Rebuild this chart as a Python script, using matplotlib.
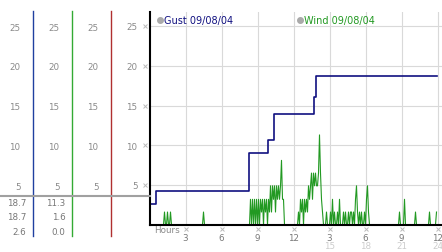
import numpy as np
import matplotlib
matplotlib.use('Agg')
import matplotlib.pyplot as plt
import matplotlib.transforms as mtrans
from matplotlib.lines import Line2D

# gust, step line (hours since start, speed)
gust_hours = [0, 0.55, 8.3, 9.9, 10.4, 13.72, 13.85, 23.95]
gust_speed = [2.6, 4.3, 9.0, 10.6, 13.9, 16.1, 18.7, 18.7]

# wind, 5 minute samples, one row per hour
wind_rows = [
    [0, 0, 0, 0, 0, 0, 0, 0, 0, 0, 0, 0],
    [0, 0, 0, 1.6, 0, 0, 1.6, 0, 0, 1.6, 0, 0],
    [0, 0, 0, 0, 0, 0, 0, 0, 0, 0, 0, 0],
    [0, 0, 0, 0, 0, 0, 0, 0, 0, 0, 0, 0],
    [0, 0, 0, 0, 0, 0, 1.6, 0, 0, 0, 0, 0],
    [0, 0, 0, 0, 0, 0, 0, 0, 0, 0, 0, 0],
    [0, 0, 0, 0, 0, 0, 0, 0, 0, 0, 0, 0],
    [0, 0, 0, 0, 0, 0, 0, 0, 0, 0, 0, 0],
    [0, 0, 0, 0, 0, 3.2, 0, 3.2, 0, 3.2, 0, 3.2],
    [0, 3.2, 0, 3.2, 1.6, 3.2, 0, 3.2, 1.6, 3.2, 0, 3.2],
    [1.6, 4.9, 1.6, 4.9, 3.2, 4.9, 1.6, 4.9, 3.2, 4.9, 3.2, 4.9],
    [8.1, 3.2, 3.2, 0, 0, 0, 0, 0, 0, 0, 0, 0],
    [0, 0, 0, 0, 0, 1.6, 0, 3.2, 1.6, 3.2, 0, 3.2],
    [1.6, 3.2, 1.6, 4.9, 3.2, 4.9, 6.5, 3.2, 6.5, 4.9, 6.5, 4.9],
    [4.9, 6.5, 11.3, 6.5, 3.2, 1.6, 0, 0, 0, 1.6, 0, 0],
    [0, 1.6, 0, 3.2, 0, 1.6, 0, 0, 1.6, 0, 3.2, 0],
    [0, 0, 1.6, 0, 1.6, 0, 0, 1.6, 0, 1.6, 1.6, 0],
    [1.6, 0, 3.2, 4.9, 1.6, 0, 1.6, 0, 1.6, 0, 0, 1.6],
    [0, 3.2, 4.9, 1.6, 0, 0, 0, 0, 0, 0, 0, 0],
    [0, 0, 0, 0, 0, 0, 0, 0, 0, 0, 0, 0],
    [0, 0, 0, 0, 0, 0, 0, 0, 0, 0, 1.6, 0],
    [0, 0, 0, 3.2, 0, 0, 0, 0, 0, 0, 0, 0],
    [0, 0, 1.6, 0, 0, 0, 0, 0, 0, 0, 0, 0],
    [0, 0, 0, 0, 1.6, 0, 0, 0, 0, 0, 0, 1.6],
]
wind_speed = np.concatenate(wind_rows)
wind_hours = np.arange(len(wind_speed)) * 5 / 60

y_ticks = [5, 10, 15, 20, 25]
hour_ticks = [3, 6, 9, 12, 15, 18, 21, 24]
hour_labels = ['3', '6', '9', '12', '3', '6', '9', '12']
day_labels = ['15', '18', '21', '24']
legend_labels = ['Gust 09/08/04', 'Wind 09/08/04']

GUST_C = '#101080'
WIND_C = '#229922'
LABEL_C = '#8a8a8a'

W, H = 442, 253
PX_UNIT = 7.95     # pixels per speed unit
PX_HOUR = 12.0     # pixels per hour
X0, Y0 = 149.5, 225.75


def fx(px):
    return px / W


def fy(py):
    return 1 - py / H


fig = plt.figure(figsize=(W / 100, H / 100), dpi=100)
fig.patch.set_facecolor('white')

# main plot
ax = fig.add_axes([fx(X0), fy(Y0), (W - X0) / W, (Y0 - 13) / H])
ax.set_xlim(0, (W - X0) / PX_HOUR)
ax.set_ylim(0, (Y0 - 13) / PX_UNIT)
ax.set_facecolor('none')

ax.plot(wind_hours, wind_speed, color=WIND_C, lw=0.8, zorder=3)
ax.plot(gust_hours, gust_speed, color=GUST_C, lw=1.2, drawstyle='steps-post', zorder=4)

ax.set_axisbelow(True)
ax.grid(color='#d9d9d9', lw=0.8)
for s in ['top', 'right']:
    ax.spines[s].set_visible(False)
for s in ['left', 'bottom']:
    ax.spines[s].set_color('black')
    ax.spines[s].set_linewidth(1.5)
    ax.spines[s].set_zorder(5)

ax.set_yticks(y_ticks)
ax.set_yticklabels([str(v) for v in y_ticks])
ax.tick_params(axis='y', length=0, pad=8.6, labelsize=6.3, labelcolor=LABEL_C)
ax.set_xticks(hour_ticks)
ax.set_xticklabels(hour_labels)
ax.tick_params(axis='x', length=0, pad=6, labelsize=6.3, labelcolor='#777777')

for t, lab in zip(hour_ticks[4:], day_labels):
    ax.annotate(lab, xy=(t, 0), xycoords=('data', 'axes fraction'),
                xytext=(0, -15.3), textcoords='offset points',
                ha='center', va='center', fontsize=6.3, color='#cccccc',
                annotation_clip=False)
ax.annotate('Hours', xy=(0, 0), xycoords=('data', 'axes fraction'),
            xytext=(12.3, -3.2), textcoords='offset points',
            ha='center', va='center', fontsize=6.3, color=LABEL_C,
            annotation_clip=False)

# small tick marks
xoff = mtrans.blended_transform_factory(ax.transData, ax.transAxes) + \
    mtrans.ScaledTranslation(0, -4.5 / 100, fig.dpi_scale_trans)
ax.plot(hour_ticks, [0] * len(hour_ticks), ls='none', marker='x', ms=2.5,
        mew=0.7, color='#bbbbbb', transform=xoff, clip_on=False)
yoff = mtrans.blended_transform_factory(ax.transAxes, ax.transData) + \
    mtrans.ScaledTranslation(-4.5 / 100, 0, fig.dpi_scale_trans)
ax.plot([0] * len(y_ticks), y_ticks, ls='none', marker='x', ms=2.5,
        mew=0.7, color='#bbbbbb', transform=yoff, clip_on=False)

# side scales
panels = [(33, '#2040a0'), (72, '#33aa33'), (111, '#b03030')]
for xl, c in panels:
    pax = fig.add_axes([fx(xl), fy(237), 30 / W, 225 / H])
    pax.set_ylim((Y0 - 237) / PX_UNIT, (Y0 - 12) / PX_UNIT)
    pax.set_facecolor('none')
    for s in ['top', 'right', 'bottom']:
        pax.spines[s].set_visible(False)
    pax.spines['left'].set_color(c)
    pax.spines['left'].set_linewidth(1.0)
    pax.set_xticks([])
    pax.set_yticks(y_ticks)
    pax.set_yticklabels([str(v) for v in y_ticks])
    pax.tick_params(axis='y', length=0, pad=9, labelsize=6.3, labelcolor=LABEL_C)

fig.add_artist(Line2D([0, fx(X0)], [fy(197), fy(197)], color='#a0a0a0',
                      lw=1.5, transform=fig.transFigure, zorder=10))

# stats: max, last, min
gust_stats = [max(gust_speed), gust_speed[-1], min(gust_speed)]
wind_stats = [wind_speed.max(), wind_speed[-1], wind_speed.min()]
rows_y = [203.5, 218, 232.5]
for xr, stats in [(26.5, gust_stats), (65.5, wind_stats)]:
    for yy, v in zip(rows_y, stats):
        fig.text(fx(xr), fy(yy), '%.1f' % v, ha='right', va='center',
                 fontsize=6.3, color='#777777')

# legend
for xm, lab, c in [(160, legend_labels[0], GUST_C), (300, legend_labels[1], WIND_C)]:
    fig.add_artist(Line2D([fx(xm)], [fy(21)], marker='o', ms=4, ls='none',
                          color='#aaaaaa', transform=fig.transFigure))
    fig.text(fx(xm + 4.5), fy(21), lab, ha='left', va='center', fontsize=7, color=c)

fig.savefig('out.png', dpi=100)
